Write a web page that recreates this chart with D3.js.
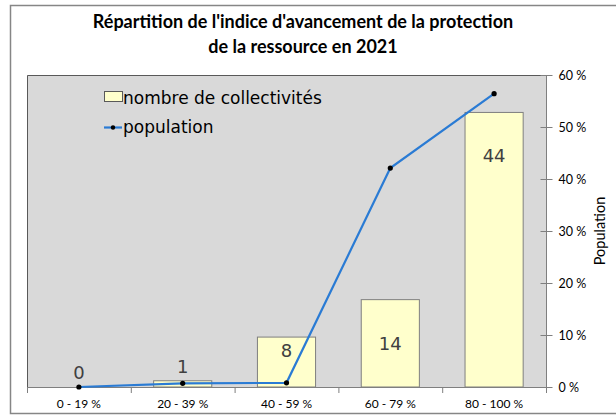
<!DOCTYPE html>
<html><head><meta charset="utf-8">
<script src="https://cdn.jsdelivr.net/npm/d3@7"></script>
<style>body{margin:0;background:#fff}</style>
</head><body>
<script>
const categories = ["0 - 19 %", "20 - 39 %", "40 - 59 %", "60 - 79 %", "80 - 100 %"];
const collectivites = [0, 1, 8, 14, 44];
const population = [0, 0.7, 0.8, 42.1, 56.4];
const pctTicks = [0, 10, 20, 30, 40, 50, 60];
const titleLines = ["Répartition de l'indice d'avancement de la protection", "de la ressource en 2021"];

const W = 616, H = 416;
const m = {left: 27, top: 75, right: 546, bottom: 387};
const svg = d3.select("body").append("svg").attr("width", W).attr("height", H);

// outer chart border
svg.append("rect").attr("x", 10.5).attr("y", 5.5).attr("width", 620).attr("height", 408)
  .attr("fill", "#fff").attr("stroke", "#868686").attr("stroke-width", 1.5);

const x = d3.scaleBand().domain(categories).range([m.left, m.right]).paddingInner(0.44).paddingOuter(0.22);
const xb = d3.scalePoint().domain(d3.range(categories.length + 1)).range([m.left, m.right]);
const yBar = d3.scaleLinear().domain([0, 50]).range([m.bottom, m.top]);
const yPct = d3.scaleLinear().domain([0, 60]).range([m.bottom, m.top]);

// plot area
svg.append("rect").attr("x", m.left).attr("y", m.top).attr("width", m.right - m.left).attr("height", m.bottom - m.top)
  .attr("fill", "#d9d9d9");
svg.append("path").attr("d", `M${m.left + 0.5},${m.bottom}V${m.top + 0.5}H${m.right}`)
  .attr("fill", "none").attr("stroke", "#595959").attr("stroke-width", 1);

// bars
svg.selectAll(".bar").data(collectivites).enter().append("rect")
  .attr("x", (d, i) => x(categories[i]))
  .attr("y", d => yBar(d))
  .attr("width", x.bandwidth())
  .attr("height", d => yBar(0) - yBar(d))
  .attr("fill", "#ffffcc").attr("stroke", "#7f7f7f").attr("stroke-width", 1);

// bar labels
svg.selectAll(".blab").data(collectivites).enter().append("text")
  .attr("x", (d, i) => x(categories[i]) + x.bandwidth() / 2)
  .attr("y", d => {
    const h = yBar(0) - yBar(d);
    if (h > 80) return yBar(d) + 50;
    if (h > 30) return yBar(d) + 20;
    return yBar(d) - 8;
  })
  .attr("text-anchor", "middle").attr("font-family", "DejaVu Sans").attr("font-size", 18)
  .attr("fill", "#404040").text(d => d);

// x axis
svg.append("line").attr("x1", m.left).attr("x2", m.right).attr("y1", m.bottom + 0.5).attr("y2", m.bottom + 0.5)
  .attr("stroke", "#7f7f7f");
svg.selectAll(".xt").data(xb.domain()).enter().append("line")
  .attr("x1", d => xb(d) + 0.5).attr("x2", d => xb(d) + 0.5).attr("y1", m.bottom).attr("y2", m.bottom + 6)
  .attr("stroke", "#7f7f7f");
svg.selectAll(".xl").data(categories).enter().append("text")
  .attr("x", d => x(d) + x.bandwidth() / 2).attr("y", 408)
  .attr("text-anchor", "middle").attr("font-family", "Lato").attr("font-size", 12).attr("fill", "#000").text(d => d);

// right axis
const ax = d3.axisRight(yPct).tickValues(pctTicks).tickSize(6).tickPadding(6).tickFormat(d => d + " %");
const g = svg.append("g").attr("transform", `translate(${m.right + 0.5},0)`).call(ax);
g.select(".domain").attr("stroke", "#7f7f7f").attr("d", `M0,${m.bottom}V${m.top}`);
g.selectAll(".tick line").attr("stroke", "#7f7f7f").attr("x1", -6).attr("x2", 6);
g.selectAll("text").attr("font-family", "Lato").attr("font-size", 12.5).attr("fill", "#000");
svg.append("text").attr("transform", `translate(605,${(m.top + m.bottom) / 2}) rotate(-90)`)
  .attr("text-anchor", "middle").attr("font-family", "Lato").attr("font-size", 14.5).text("Population");

// line
const cx = (d, i) => x(categories[i]) + x.bandwidth() / 2;
svg.append("path").datum(population)
  .attr("d", d3.line().x(cx).y(d => yPct(d)))
  .attr("fill", "none").attr("stroke", "#2a7bd4").attr("stroke-width", 2.2);
svg.selectAll(".pt").data(population).enter().append("circle")
  .attr("cx", cx).attr("cy", d => yPct(d)).attr("r", 2.6).attr("fill", "#000");

// legend
svg.append("rect").attr("x", 104.5).attr("y", 91.5).attr("width", 18).attr("height", 10)
  .attr("fill", "#ffffcc").attr("stroke", "#595959");
svg.append("text").attr("x", 123).attr("y", 104).attr("font-family", "DejaVu Sans").attr("font-size", 17)
  .attr("fill", "#000").text("nombre de collectivités");
svg.append("line").attr("x1", 104).attr("x2", 122).attr("y1", 127.5).attr("y2", 127.5)
  .attr("stroke", "#2a7bd4").attr("stroke-width", 2.2);
svg.append("circle").attr("cx", 113).attr("cy", 127.5).attr("r", 2.2).attr("fill", "#000");
svg.append("text").attr("x", 123).attr("y", 133).attr("font-family", "DejaVu Sans").attr("font-size", 17)
  .attr("fill", "#000").text("population");

// title
svg.selectAll(".title").data(titleLines).enter().append("text")
  .attr("x", 303).attr("y", (d, i) => 28 + i * 25)
  .attr("text-anchor", "middle").attr("font-family", "Lato").attr("font-weight", "bold").attr("font-size", 18)
  .attr("fill", "#000").text(d => d);
</script>
</body></html>
